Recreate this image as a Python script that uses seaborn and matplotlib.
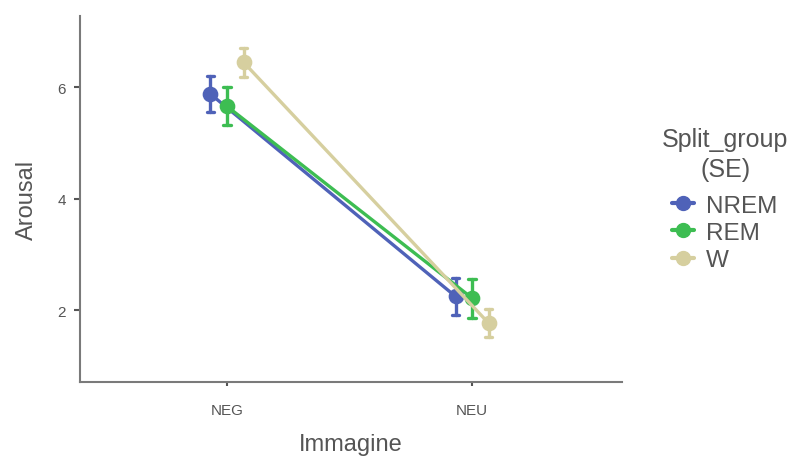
import matplotlib
matplotlib.use("Agg")
import matplotlib.pyplot as plt
import seaborn as sns
import pandas as pd
import numpy as np
from matplotlib.lines import Line2D

images = ["NEG", "NEU"]
groups = ["NREM", "REM", "W"]
means = {
    "NREM": [5.88, 2.25],
    "REM": [5.66, 2.22],
    "W": [6.45, 1.77],
}
ses = {
    "NREM": [0.32, 0.33],
    "REM": [0.34, 0.35],
    "W": [0.26, 0.25],
}
colors = ["#4f62b8", "#3dbd52", "#d6cf9f"]
yticks = [2, 4, 6]

rows = []
for g in groups:
    for i, im in enumerate(images):
        m, s = means[g][i], ses[g][i]
        rows.append({"Immagine": im, "Split_group": g, "Arousal": m - s})
        rows.append({"Immagine": im, "Split_group": g, "Arousal": m + s})
df = pd.DataFrame(rows)

sns.set_style("white")
plt.rcParams["font.family"] = ["Liberation Sans", "DejaVu Sans"]

fig = plt.figure(figsize=(8, 4.6), dpi=100)
ax = fig.add_axes([0.1, 0.168, 0.677, 0.795])

sns.pointplot(
    data=df, x="Immagine", y="Arousal", hue="Split_group",
    order=images, hue_order=groups, palette=colors,
    errorbar=("pi", 100), dodge=0.135, capsize=0.03,
    markers="o", markersize=9.5, linewidth=2.4, err_kws={"linewidth": 2.4},
    ax=ax, legend=False,
)

ax.set_xlim(-0.6, 1.61)
ax.set_ylim(0.72, 7.28)
ax.set_yticks(yticks)
ax.set_yticklabels([str(t) for t in yticks])
for side in ["top", "right"]:
    ax.spines[side].set_visible(False)
for side in ["left", "bottom"]:
    ax.spines[side].set_color("#7a7a7a")
    ax.spines[side].set_linewidth(1.5)
ax.tick_params(axis="y", left=True, length=4, width=1.5, color="#555555", labelsize=11, labelcolor="#555555", pad=6)
ax.tick_params(axis="x", bottom=True, length=3, width=1.5, color="#555555", labelsize=11, labelcolor="#555555", pad=12)
ax.set_xlabel("Immagine", fontsize=17, color="#555555", labelpad=12)
ax.set_ylabel("Arousal", fontsize=17, color="#555555", labelpad=14)

handles = [Line2D([0], [0], color=c, marker="o", markersize=10, linewidth=3) for c in colors]
leg = fig.legend(handles, groups, title="Split_group\n(SE)", loc="center left",
                 bbox_to_anchor=(0.8, 0.565), frameon=False, fontsize=17.5,
                 title_fontsize=18, handlelength=0.9, handletextpad=0.5,
                 labelspacing=0.22)
leg.get_title().set_multialignment("center")
leg.get_title().set_color("#555555")
leg.get_title().set_linespacing(1.3)
leg._legend_box.sep = 10
for t in leg.get_texts():
    t.set_color("#555555")

fig.savefig("out.png", dpi=100)
